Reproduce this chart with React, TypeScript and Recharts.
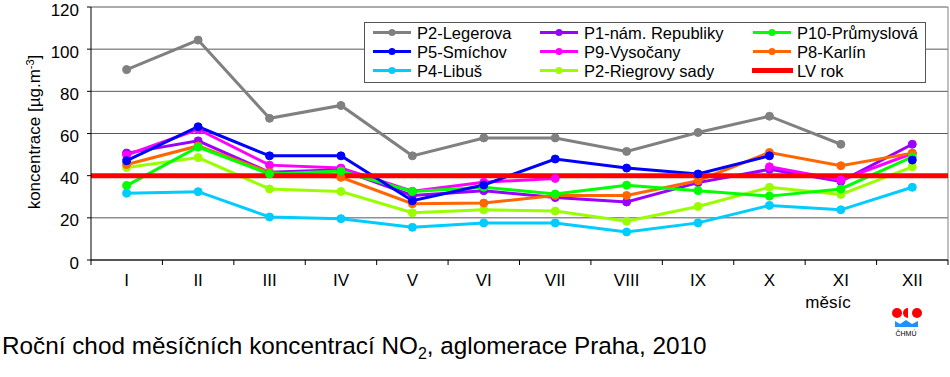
import React from 'react'
import {
  LineChart,
  Line,
  XAxis,
  YAxis,
  CartesianGrid,
  ReferenceLine,
  Legend,
} from 'recharts'

// months (roman numerals) and monthly NO2 means [µg/m3]
const months = ['I', 'II', 'III', 'IV', 'V', 'VI', 'VII', 'VIII', 'IX', 'X', 'XI', 'XII']
const legerova = [90.3, 104.3, 67.2, 73.3, 49.4, 57.9, 57.9, 51.5, 60.5, 68.2, 54.9, null]
const smichov = [47.1, 63.2, 49.4, 49.4, 28.1, 35.6, 47.9, 43.6, 40.8, 49.4, null, 47.4]
const libus = [31.7, 32.4, 20.4, 19.6, 15.5, 17.6, 17.6, 13.3, 17.6, 25.9, 23.8, 34.5]
const republiky = [50.7, 56.5, 41.6, 42.8, 30.6, 32.9, 29.6, 27.5, 36.7, 43.0, 37.3, 54.9]
const vysocany = [49.8, 62.0, 45.0, 43.6, 32.6, 36.9, 38.7, null, null, 44.2, 38.0, 50.5]
const riegrovy = [43.9, 48.6, 33.7, 32.5, 22.4, 23.8, 23.2, 18.4, 25.4, 34.5, 31.1, 44.2]
const prumyslova = [35.3, 53.6, 40.8, 42.2, 32.5, 34.5, 31.3, 35.5, 32.9, 30.3, 33.7, 48.9]
const karlin = [45.3, 54.1, 41.5, 39.2, 26.7, 27.0, 30.6, 30.6, 37.6, 51.0, 44.7, 50.7]
const limitValue = 40
const yTicks = [0, 20, 40, 60, 80, 100, 120]

const series = [
  { key: 'legerova', name: 'P2-Legerova', color: '#808080', values: legerova },
  { key: 'republiky', name: 'P1-nám. Republiky', color: '#9900FF', values: republiky },
  { key: 'vysocany', name: 'P9-Vysočany', color: '#FF00FF', values: vysocany },
  { key: 'riegrovy', name: 'P2-Riegrovy sady', color: '#99FF00', values: riegrovy },
  { key: 'karlin', name: 'P8-Karlín', color: '#FF6600', values: karlin },
  { key: 'prumyslova', name: 'P10-Průmyslová', color: '#00FF00', values: prumyslova },
  { key: 'smichov', name: 'P5-Smíchov', color: '#0000FF', values: smichov },
  { key: 'libus', name: 'P4-Libuš', color: '#00CCFF', values: libus },
]

// legend layout as in the original (row by row)
const legendRows = [
  ['legerova', 'republiky', 'prumyslova'],
  ['smichov', 'vysocany', 'karlin'],
  ['libus', 'riegrovy', 'lv'],
]

const data = months.map((m, i) => {
  const row: Record<string, number | null> = { m: i + 1 }
  series.forEach((s) => {
    row[s.key] = s.values[i]
  })
  return row
})

const bounds = months.map((_, i) => i + 0.5).concat([months.length + 0.5])

const FONT = '"Liberation Sans", Arial, sans-serif'
const PLOT_LEFT = 91
const PLOT_RIGHT = 948
const HALF_BAND = (PLOT_RIGHT - PLOT_LEFT) / months.length / 2

function MonthTick(props: any) {
  const { x, y, payload } = props
  const idx = Math.round(payload.value + 0.5) - 1
  if (idx >= months.length) return null
  return (
    <text x={x + HALF_BAND} y={y + 19} textAnchor="middle" fontSize={17} fontFamily={FONT} fill="#000">
      {months[idx]}
    </text>
  )
}

function ValueTick(props: any) {
  const { x, y, payload } = props
  return (
    <text x={x} y={y + 8.5} textAnchor="end" fontSize={17} fontFamily={FONT} fill="#000">
      {payload.value}
    </text>
  )
}

function LegendBox() {
  const colX = [9, 176, 389]
  const rowY = [10.5, 29.5, 48.5]
  return (
    <svg width={562} height={61} style={{ display: 'block' }}>
      <rect x={0.5} y={0.5} width={561} height={60} fill="#fff" stroke="#555" />
      {legendRows.map((row, r) =>
        row.map((key, c) => {
          const cx = colX[c]
          const cy = rowY[r]
          if (key === 'lv') {
            return (
              <g key={key}>
                <line x1={cx - 1} x2={cx + 40} y1={cy} y2={cy} stroke="#FF0000" strokeWidth={5} />
                <text x={cx + 44} y={cy + 6} fontSize={16.5} fontFamily={FONT}>LV rok</text>
              </g>
            )
          }
          const s = series.find((d) => d.key === key)!
          return (
            <g key={key}>
              <line x1={cx} x2={cx + 38} y1={cy} y2={cy} stroke={s.color} strokeWidth={3} />
              <circle cx={cx + 19} cy={cy} r={3.5} fill={s.color} />
              <text x={cx + 44} y={cy + 6} fontSize={16.5} fontFamily={FONT}>{s.name}</text>
            </g>
          )
        })
      )}
    </svg>
  )
}

export default function App() {
  return (
    <div style={{ position: 'absolute', left: 0, top: 0, width: 950, height: 377, background: '#fff', fontFamily: FONT }}>
      <LineChart width={950} height={377} data={data} margin={{ top: 7, right: 2, left: 0, bottom: 77 }}>
        <CartesianGrid vertical={false} stroke="#595959" />
        <XAxis
          dataKey="m"
          type="number"
          domain={[0.5, months.length + 0.5]}
          ticks={bounds}
          interval={0}
          height={40}
          tick={<MonthTick />}
          tickSize={5}
          tickLine={{ stroke: '#000' }}
          axisLine={{ stroke: '#000' }}
        />
        <YAxis
          type="number"
          domain={[0, 120]}
          ticks={yTicks}
          interval={0}
          width={PLOT_LEFT}
          tickSize={4}
          tickMargin={8}
          tickLine={{ stroke: '#000' }}
          axisLine={{ stroke: '#000' }}
          tick={<ValueTick />}
        />
        <ReferenceLine x={months.length + 0.5} stroke="#808080" />
        {series.map((s) => (
          <Line
            key={s.key}
            dataKey={s.key}
            name={s.name}
            stroke={s.color}
            strokeWidth={3}
            dot={{ r: 4, fill: s.color, stroke: s.color, strokeWidth: 1 }}
            activeDot={false}
            isAnimationActive={false}
          />
        ))}
        <ReferenceLine y={limitValue} stroke="#FF0000" strokeWidth={5} />
        <Legend
          layout="vertical"
          align="center"
          verticalAlign="middle"
          content={() => <LegendBox />}
          wrapperStyle={{ position: 'absolute', left: 364, top: 22, width: 562, height: 61 }}
        />
      </LineChart>
      <svg width={950} height={377} style={{ position: 'absolute', left: 0, top: 0, pointerEvents: 'none' }}>
        <text transform="translate(40,132) rotate(-90)" textAnchor="middle" fontSize={17} fontFamily={FONT}>
          koncentrace [µg.m<tspan dy={-6} fontSize={11}>-3</tspan><tspan dy={6}>]</tspan>
        </text>
        <text x={828} y={308} textAnchor="middle" fontSize={17} fontFamily={FONT}>měsíc</text>
        <text x={2} y={354} fontSize={24.3} fontFamily={FONT}>
          Roční chod měsíčních koncentrací NO<tspan dy={5} fontSize={16}>2</tspan>
          <tspan dy={-5}>, aglomerace Praha, 2010</tspan>
        </text>
        <g>
          <circle cx={897} cy={313} r={5} fill="#FF0000" />
          <path d="M 908 308 A 5 5 0 0 0 908 318 Z" fill="#FF0000" />
          <circle cx={917} cy={313} r={5} fill="#FF0000" />
          <path d="M 895 327 L 895 321 L 900 324 L 906 320 L 912 324 L 918 321 L 918 327 Z" fill="#1E90FF" />
          <text x={906} y={336} textAnchor="middle" fontSize={7} fontFamily={FONT}>ČHMÚ</text>
        </g>
      </svg>
    </div>
  )
}
